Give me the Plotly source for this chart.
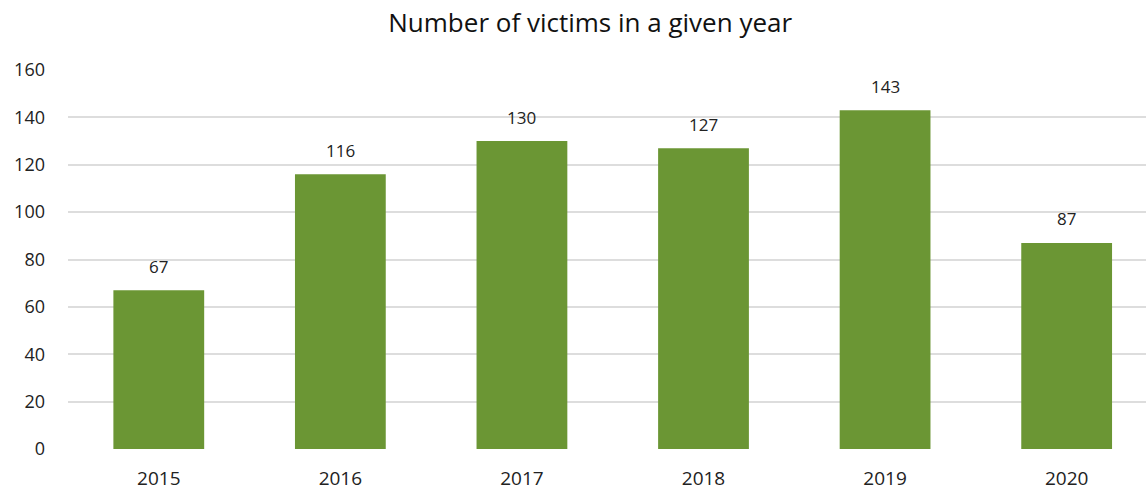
import plotly.graph_objects as go

years = ["2015", "2016", "2017", "2018", "2019", "2020"]
victims = [67, 116, 130, 127, 143, 87]
y_ticks = [0, 20, 40, 60, 80, 100, 120, 140, 160]

FONT = "Open Sans, Noto Sans, sans-serif"
GREEN = "#6B9634"

fig = go.Figure(go.Bar(
    x=years, y=victims, marker=dict(color=GREEN, line=dict(width=0)),
    width=0.5, hoverinfo="x+y",
))

for i, v in enumerate(victims):
    fig.add_annotation(x=i, y=v, xref="x", yref="y", text=str(v), showarrow=False,
                       yshift=24, font=dict(family=FONT, size=17, color="#222222"))

fig.update_layout(
    width=1146, height=492,
    margin=dict(l=68, r=0, t=70, b=43),
    paper_bgcolor="white", plot_bgcolor="white",
    showlegend=False,
    title=dict(text="Number of victims in a given year", x=0.515, xanchor="center",
               y=0.953, yanchor="middle",
               font=dict(family=FONT, size=26, color="#111111")),
    xaxis=dict(type="category", range=[-0.5, 5.437], showgrid=False, showline=False,
               zeroline=False, ticks="", ticklabelstandoff=16,
               tickfont=dict(family=FONT, size=19, color="#222222")),
    yaxis=dict(range=[0, 160], tickvals=y_ticks, showgrid=True, gridcolor="#DDDDDD",
               gridwidth=1.5, zeroline=False, showline=False, ticks="",
               ticklabelstandoff=22,
               tickfont=dict(family=FONT, size=18, color="#222222")),
)

fig.write_html("out.html")
